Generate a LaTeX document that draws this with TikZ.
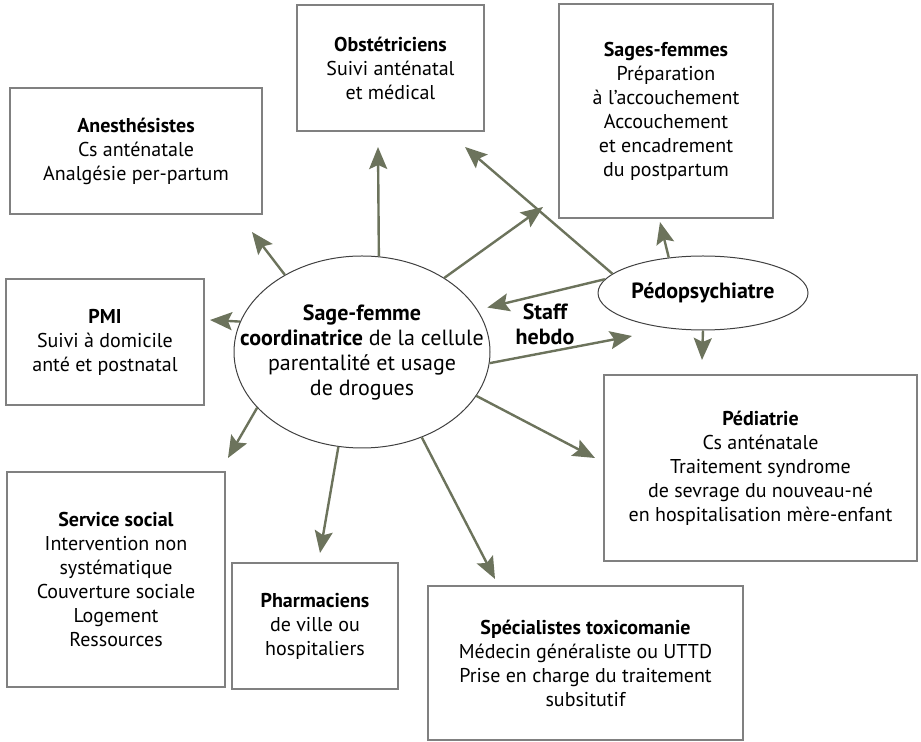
\documentclass[tikz,border=0pt]{standalone}
\usepackage{fontspec}
\setmainfont{PT Sans}
\usetikzlibrary{shapes.geometric,arrows.meta}
\definecolor{arrowgreen}{RGB}{108,115,92}
\definecolor{boxgray}{RGB}{128,128,128}

\begin{document}
\begin{tikzpicture}[x=0.5pt,y=-0.5pt,
box/.style={draw=boxgray,line width=0.6pt,align=center,inner sep=0pt,font=\fontsize{10}{12}\selectfont},
hub/.style={draw=black!75,ellipse,line width=0.5pt,inner sep=0pt},
lbl/.style={align=center,font=\fontsize{11}{12.5}\selectfont},
link/.style={draw=arrowgreen,line width=1.2pt,-{Stealth[length=11pt,width=9pt,inset=2pt]}}]
\useasboundingbox (0,0) rectangle (921,742);

% boxes round the hub
\node[box,minimum width=93.5pt,minimum height=63pt] (obst) at (390.5,68)
  {\textbf{Obstétriciens}\\Suivi anténatal\\et médical};
\node[box,minimum width=107pt,minimum height=107pt] (sf) at (666,111)
  {\textbf{Sages-femmes}\\Préparation\\à l’accouchement\\Accouchement\\et encadrement\\du postpartum};
\node[box,minimum width=126pt,minimum height=63pt] (anes) at (136,151)
  {\textbf{Anesthésistes}\\Cs anténatale\\Analgésie per-partum};
\node[box,minimum width=99pt,minimum height=63pt] (pmi) at (105,342)
  {\textbf{PMI}\\Suivi à domicile\\anté et postnatal};
\node[box,minimum width=156.5pt,minimum height=93pt] (ped) at (760.5,468)
  {\textbf{Pédiatrie}\\Cs anténatale\\Traitement syndrome\\de sevrage du nouveau-né\\en hospitalisation mère-enfant};
\node[box,minimum width=109pt,minimum height=107.5pt] (soc) at (116,579.5)
  {\textbf{Service social}\\Intervention non\\systématique\\Couverture sociale\\Logement\\Ressources};
\node[box,minimum width=83pt,minimum height=63pt] (phar) at (315,626)
  {\textbf{Pharmaciens}\\de ville ou\\hospitaliers};
\node[box,minimum width=157.5pt,minimum height=77pt] (spec) at (585.5,663)
  {\textbf{Spécialistes toxicomanie}\\Médecin généraliste ou UTTD\\Prise en charge du traitement\\subsitutif};

% the two ellipses
\node[hub,minimum width=128pt,minimum height=96pt,
  label={[lbl]center:\textbf{Sage-femme}\\\textbf{coordinatrice} de la cellule\\parentalité et usage\\de drogues}] (cen) at (362,352) {};
\node[hub,minimum width=105pt,minimum height=37pt,font=\bfseries\fontsize{11}{12.5}\selectfont] (pedo) at (703,293) {Pédopsychiatre};
\node[lbl,font=\bfseries\fontsize{11}{12.5}\selectfont] (staff) at (545,324) {Staff\\hebdo};

% free ends of the arrows
\coordinate (tObst) at (378,147);
\coordinate (tAnes) at (252,232);
\coordinate (tPmi) at (210,320);
\coordinate (tSoc) at (228,458);
\coordinate (tPhar) at (320,553);
\coordinate (tSpec) at (495,579);
\coordinate (tPed) at (595,458);
\coordinate (tSf) at (543,207);
\coordinate (tObstB) at (465,147);
\coordinate (tStaff) at (632,336);
\coordinate (tSfB) at (660,222);
\coordinate (tPedB) at (702,360);

\draw[link] (cen.80) -- (tObst);
\draw[link] (cen.135) -- (tAnes);
\draw[link] (cen.166) -- (tPmi);
\draw[link] (cen.208) -- (tSoc);
\draw[link] (cen.256) -- (tPhar);
\draw[link] (cen.305) -- (tSpec);
\draw[link] (cen.339) -- (tPed);
\draw[link] (cen.42) -- (tSf);
\draw[link] (cen.355) -- (tStaff);
\draw[link] (pedo.168) -- (tObstB);
\draw[link,shorten >=5pt] (pedo.172) -- (cen.20);
\draw[link] (pedo.134) -- (tSfB);
\draw[link] (pedo.south) -- (tPedB);
\end{tikzpicture}
\end{document}
